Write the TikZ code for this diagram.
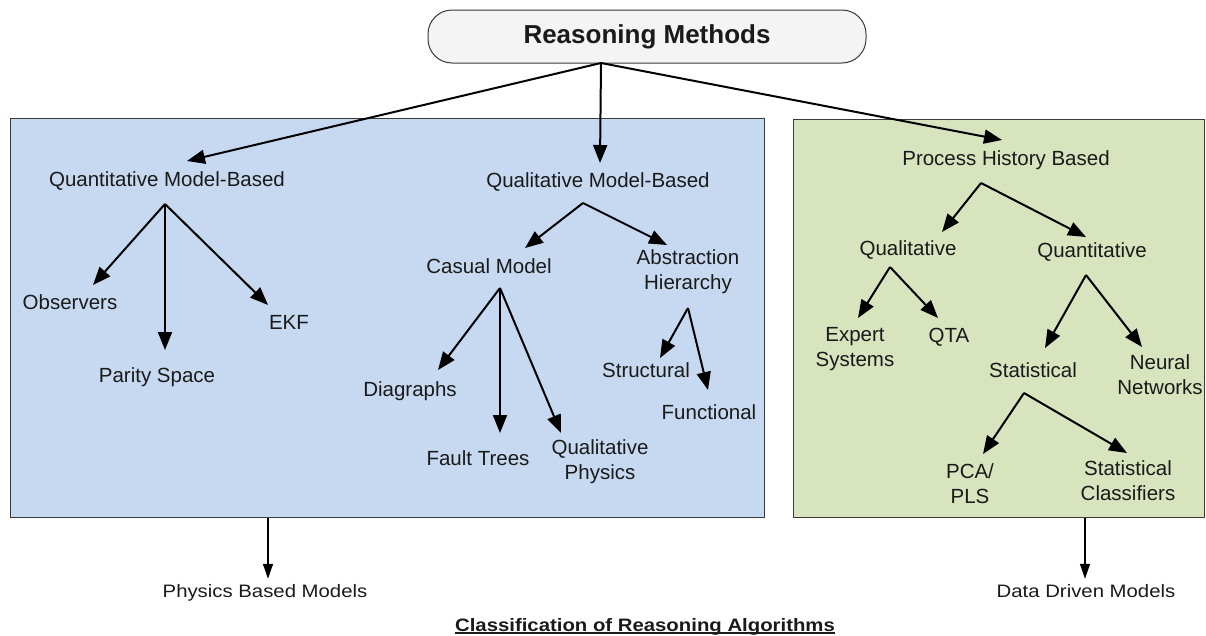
\documentclass[tikz,border=0pt]{standalone}
\usepackage{fontspec}
\setmainfont{Liberation Sans}
\newfontfamily\widefont[FakeStretch=1.13]{Liberation Sans}
\usetikzlibrary{arrows.meta}
\definecolor{boxblue}{HTML}{C6D9F1}
\definecolor{boxgreen}{HTML}{D7E4BD}
\definecolor{ink}{HTML}{1A1A1A}
\definecolor{edge}{HTML}{3A3A3A}
\tikzset{
  lbl/.style={font=\fontsize{20.5}{25}\selectfont, text=ink, align=center, inner sep=0pt},
  foot/.style={font=\widefont\fontsize{18}{22}\selectfont, text=ink, inner sep=0pt},
  arr/.style={-{Triangle[length=18pt,width=14pt]}, line width=2pt, draw=black},
  thinarr/.style={-{Triangle[length=15pt,width=10pt]}, line width=1.5pt, draw=black},
  panel/.style={draw=edge, line width=1.2pt, inner sep=0pt, anchor=north west},
}
\begin{document}
\begin{tikzpicture}[x=1pt, y=-1pt]
\useasboundingbox (0,0) rectangle (1206,635);

% header
\node[draw=edge, line width=1pt, fill=gray!9, rounded corners=24pt,
      minimum width=438pt, minimum height=53pt, inner sep=0pt,
      font=\bfseries\fontsize{26}{30}\selectfont, text=ink] (rm) at (647,36.5) {Reasoning Methods};
\coordinate (rm-hub) at (601,63);

% the two panels
\node[panel, fill=boxblue, minimum width=754pt, minimum height=399pt] (pbox) at (10,118) {};
\node[panel, fill=boxgreen, minimum width=411pt, minimum height=398pt] (dbox) at (793,119) {};

% ---- physics based (quantitative / qualitative model-based)
\node[lbl] (qnt) at (167,181) {Quantitative Model-Based};
\node[lbl] (obs) at (70,302) {Observers};
\node[lbl] (par) at (157,377) {Parity Space};
\node[lbl] (ekf) at (289,322) {EKF};

\node[lbl] (qlm) at (598,182) {Qualitative Model-Based};
\node[lbl] (cas) at (489,266) {Casual Model};
\node[lbl] (abs) at (688,271.5) {Abstraction\\Hierarchy};
\node[lbl] (dia) at (410,391) {Diagraphs};
\node[lbl] (flt) at (478,458) {Fault Trees};
\node[lbl] (qph) at (600,462) {Qualitative\\Physics};
\node[lbl] (str) at (646,370) {Structural};
\node[lbl] (fun) at (709,412) {Functional};

% ---- data driven (process history based)
\node[lbl] (phb) at (1006,160) {Process History Based};
\node[lbl] (qlt) at (908,250) {Qualitative};
\node[lbl] (qnv) at (1092,252) {Quantitative};
\node[lbl] (exs) at (855,349) {Expert\\Systems};
\node[lbl] (qta) at (949,337) {QTA};
\node[lbl] (sta) at (1033,370) {Statistical};
\node[lbl] (nnw) at (1160,375) {Neural\\Networks};
\node[lbl] (pca) at (970,484) {PCA/\\PLS};
\node[lbl] (scl) at (1128,481) {Statistical\\Classifiers};

% footer labels
\node[foot, anchor=base] (phys) at (265,597) {Physics Based Models};
\node[foot, anchor=base] (data) at (1086,597) {Data Driven Models};
\node[foot, anchor=base, font=\widefont\bfseries\fontsize{18}{22}\selectfont] (title) at (645,631) {Classification of Reasoning Algorithms};
\draw[line width=1.3pt, ink] ([yshift=-2pt]title.base west) -- ([yshift=-2pt]title.base east);

% arrow start and end points
\coordinate (qnt-hub) at (165,204);
\coordinate (qlm-hub) at (583,203);
\coordinate (cas-hub) at (500,288);
\coordinate (abs-hub) at (688,308);
\coordinate (phb-hub) at (981,183);
\coordinate (qlt-hub) at (890,267);
\coordinate (qnv-hub) at (1086,275);
\coordinate (sta-hub) at (1024,393);

\coordinate (qnt-in) at (187,161);
\coordinate (qlm-in) at (600,163);
\coordinate (phb-in) at (1002,140);
\coordinate (obs-in) at (93,285);
\coordinate (par-in) at (165,350);
\coordinate (ekf-in) at (268,305);
\coordinate (cas-in) at (525,248);
\coordinate (abs-in) at (667,245);
\coordinate (dia-in) at (438,370);
\coordinate (flt-in) at (500,433);
\coordinate (qph-in) at (561,433);
\coordinate (str-in) at (660,358);
\coordinate (fun-in) at (708,390);
\coordinate (qlt-in) at (942,232);
\coordinate (qnv-in) at (1086,237);
\coordinate (exs-in) at (858,318);
\coordinate (qta-in) at (938,318);
\coordinate (sta-in) at (1045,348);
\coordinate (nnw-in) at (1142,347);
\coordinate (pca-in) at (983,454);
\coordinate (scl-in) at (1127,453);

% connectors
\foreach \c in {qnt,qlm,phb} \draw[arr] (rm-hub) -- (\c-in);
\foreach \c in {obs,par,ekf} \draw[arr] (qnt-hub) -- (\c-in);
\foreach \c in {cas,abs} \draw[arr] (qlm-hub) -- (\c-in);
\foreach \c in {dia,flt,qph} \draw[arr] (cas-hub) -- (\c-in);
\foreach \c in {str,fun} \draw[arr] (abs-hub) -- (\c-in);
\foreach \c in {qlt,qnv} \draw[arr] (phb-hub) -- (\c-in);
\foreach \c in {exs,qta} \draw[arr] (qlt-hub) -- (\c-in);
\foreach \c in {sta,nnw} \draw[arr] (qnv-hub) -- (\c-in);
\foreach \c in {pca,scl} \draw[arr] (sta-hub) -- (\c-in);

\draw[thinarr] (pbox.south -| 268,0) -- ([yshift=5pt]phys.north -| 268,0);
\draw[thinarr] (dbox.south -| 1085,0) -- ([yshift=5pt]data.north -| 1085,0);
\end{tikzpicture}
\end{document}
